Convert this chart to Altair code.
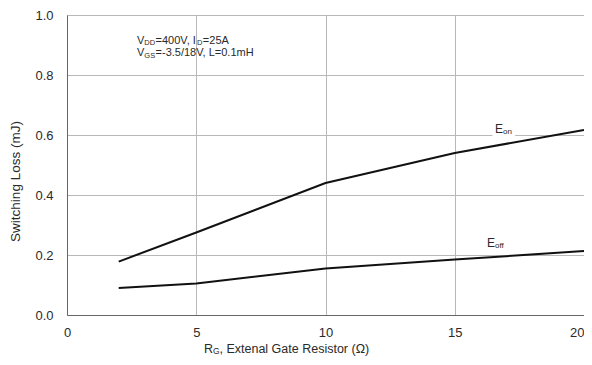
import altair as alt
import pandas as pd

# data
rg = [2, 5, 10, 15, 20]
e_on = [0.178, 0.275, 0.44, 0.54, 0.617]
e_off = [0.09, 0.105, 0.155, 0.185, 0.213]
x_ticks = [0, 5, 10, 15, 20]
y_ticks = [0.0, 0.2, 0.4, 0.6, 0.8, 1.0]

FONT = "Liberation Sans"
TXT = "#2a2a2a"
df = pd.DataFrame({"rg": rg * 2, "loss": e_on + e_off,
                   "series": ["Eon"] * len(rg) + ["Eoff"] * len(rg)})

xs = alt.Scale(domain=[0, 20], nice=False)
ys = alt.Scale(domain=[0, 1], nice=False)

lines = alt.Chart(df).mark_line(color="#111", strokeWidth=2, clip=False).encode(
    x=alt.X("rg:Q", scale=xs,
            axis=alt.Axis(values=x_ticks, title=None, grid=True, gridColor="#b8b8b8",
                          domainColor="#666", ticks=False, labelPadding=11,
                          labelFont=FONT, labelFontSize=13, labelColor=TXT,
                          labelFlush=False,
                          labelAlign=alt.ExprRef("datum.value == 20 ? 'right' : 'center'"))),
    y=alt.Y("loss:Q", scale=ys,
            axis=alt.Axis(values=y_ticks, format=".1f", title="Switching Loss (mJ)",
                          grid=True, gridColor="#b8b8b8", domainColor="#666", ticks=False,
                          labelPadding=14, labelFont=FONT, labelFontSize=13,
                          labelColor=TXT, titleFont=FONT, titleFontSize=13.5,
                          titleFontWeight="normal", titleColor=TXT,
                          titleX=-52, titleY=166, titleBaseline="middle",
                          titleAlign="center", titleAngle=270)),
    detail="series:N",
)

# text pieces: (x, y, text, dx, dy, size, halo)
pieces = [
    (2.71, 0.915, "V", 0, 0, 11, False), (2.71, 0.915, "DD", 7.3, 2.5, 7.5, False),
    (2.71, 0.915, "=400V, I", 18.5, 0, 11, False), (2.71, 0.915, "D", 60, 2.5, 7.5, False),
    (2.71, 0.915, "=25A", 65.8, 0, 11, False),
    (2.71, 0.873, "V", 0, 0, 11, False), (2.71, 0.873, "GS", 7.3, 2.5, 7.5, False),
    (2.71, 0.873, "=-3.5/18V, L=0.1mH", 18.5, 0, 11, False),
    (16.56, 0.62, "E", 0, 0, 12, True), (16.56, 0.62, "on", 8, 2.5, 8, True),
    (16.25, 0.24, "E", 0, 0, 12, False), (16.25, 0.24, "off", 8, 2.5, 8, False),
    (5.3, -0.112, "R", 0, 0, 12.5, False), (5.3, -0.112, "G", 9, 2.5, 8.5, False),
    (5.3, -0.112, ", Extenal Gate Resistor (Ω)", 15.5, 0, 12.5, False),
]

halos = []
texts = []
for (px, py, t, dx, dy, sz, halo) in pieces:
    d = pd.DataFrame({"x": [px], "y": [py], "t": [t]})
    enc = dict(x=alt.X("x:Q", scale=xs), y=alt.Y("y:Q", scale=ys), text="t:N")
    if halo:
        halos.append(
            alt.Chart(d).mark_text(align="left", baseline="middle", dx=dx, dy=dy, font=FONT,
                                   fontSize=sz, color="white", stroke="white",
                                   strokeWidth=7, clip=False).encode(**enc)
        )
    texts.append(
        alt.Chart(d).mark_text(align="left", baseline="middle", dx=dx, dy=dy, font=FONT,
                               fontSize=sz, color=TXT, clip=False).encode(**enc)
    )

chart = alt.layer(lines, *halos, *texts).properties(
    width=517, height=300,
    autosize=alt.AutoSizeParams(type="none"),
    padding={"left": 59, "top": 7, "right": 0, "bottom": 42},
).configure_view(stroke=None).configure(background="white")

chart.save("out.html", embed_options={"renderer": "svg", "actions": False})
